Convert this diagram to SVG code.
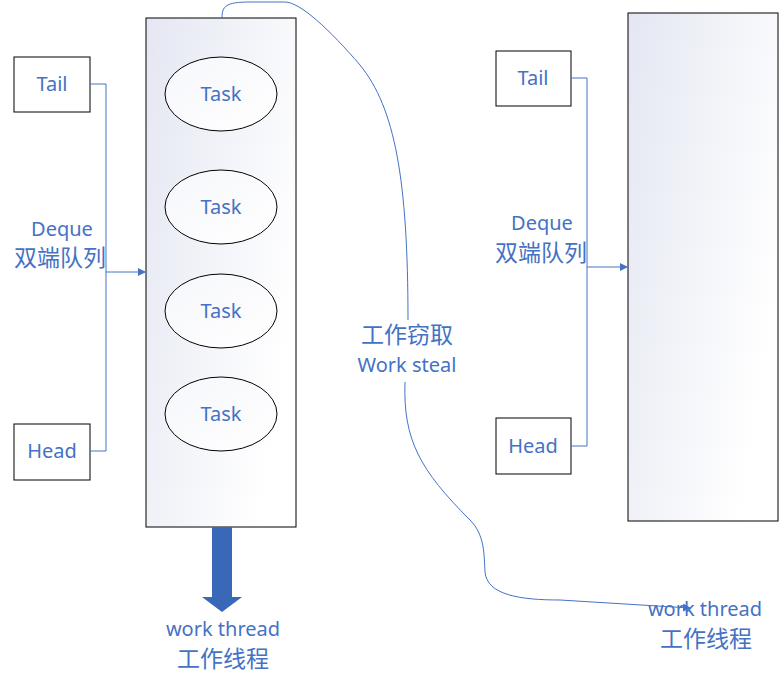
<svg xmlns="http://www.w3.org/2000/svg" width="780" height="683" viewBox="0 0 780 683">
<style>
.box{fill:#fff;stroke:#000;stroke-width:1}
.col{fill:url(#g);stroke:#000;stroke-width:1}
.ell{fill:url(#g2);stroke:#000;stroke-width:1}
.t{font-family:"Noto Sans","Noto Sans CJK SC",sans-serif;fill:#4472c4;text-anchor:middle}
.ln{fill:none;stroke:#4472c4;stroke-width:1}
</style>
<defs>
<linearGradient id="g" x1="0" y1="0" x2="1" y2="0.55"><stop offset="0" stop-color="#e4e7f2"/><stop offset="1" stop-color="#ffffff"/></linearGradient>
<linearGradient id="g2" x1="0" y1="0" x2="1" y2="1"><stop offset="0" stop-color="#f6f7fb"/><stop offset="1" stop-color="#ffffff"/></linearGradient>
<marker id="a" markerWidth="8" markerHeight="8" refX="7" refY="4" orient="auto" markerUnits="userSpaceOnUse"><path d="M0,0 L8,4 L0,8 z" fill="#4472c4"/></marker>
</defs>
<g id="leftDeque">
<rect class="col" x="146" y="18" width="150" height="509"/>
<ellipse class="ell" cx="221" cy="94" rx="56" ry="37"/><text class="t" x="221" y="101" font-size="20">Task</text>
<ellipse class="ell" cx="221" cy="207" rx="56" ry="37"/><text class="t" x="221" y="214" font-size="20">Task</text>
<ellipse class="ell" cx="221" cy="311" rx="56" ry="37"/><text class="t" x="221" y="318" font-size="20">Task</text>
<ellipse class="ell" cx="221" cy="414" rx="56" ry="37"/><text class="t" x="221" y="421" font-size="20">Task</text>
</g>
<g id="leftTail"><rect class="box" x="14" y="57" width="76" height="55"/><text class="t" x="52" y="91" font-size="20">Tail</text></g>
<g id="leftHead"><rect class="box" x="14" y="424" width="76" height="56"/><text class="t" x="52" y="458" font-size="20">Head</text></g>
<g id="leftLabel"><text class="t" x="62" y="236" font-size="20">Deque</text><text class="t" x="60" y="266" font-size="23">双端队列</text></g>
<g id="leftThread"><text class="t" x="223" y="636" font-size="20">work thread</text><text class="t" x="223" y="667" font-size="23">工作线程</text></g>
<g id="rightDeque"><rect class="col" x="628" y="13" width="150" height="508"/></g>
<g id="rightTail"><rect class="box" x="496" y="51" width="75" height="55"/><text class="t" x="533" y="85" font-size="20">Tail</text></g>
<g id="rightHead"><rect class="box" x="496" y="418" width="75" height="56"/><text class="t" x="533" y="453" font-size="20">Head</text></g>
<g id="rightLabel"><text class="t" x="542" y="230" font-size="20">Deque</text><text class="t" x="541" y="261" font-size="23">双端队列</text></g>
<g id="rightThread"><text class="t" x="705" y="616" font-size="20">work thread</text><text class="t" x="706" y="647" font-size="23">工作线程</text></g>
<g id="stealLabel"><text class="t" x="407" y="343" font-size="23">工作窃取</text><text class="t" x="407" y="372" font-size="20">Work steal</text></g>
<g id="connectors">
<path class="ln" d="M90,84 H106 V451 H90"/>
<path class="ln" d="M106,272 H145" marker-end="url(#a)"/>
<path class="ln" d="M571,78 H587 V446 H571"/>
<path class="ln" d="M587,267 H627" marker-end="url(#a)"/>
<path d="M212,527 H232 V597 H242 L222,612 L202,597 H212 Z" fill="#3a68b8"/>
<path class="ln" d="M222,18 C222,6 226,2 250,2 L285,2 C300,2 330,30 360,65 C395,108 408,180 408,320"/>
<path class="ln" d="M405,382 C403,440 420,470 470,520 C485,535 484,555 485,572 C487,595 520,600 560,600 L690,608" marker-end="url(#a)"/>
</g>
</svg>
